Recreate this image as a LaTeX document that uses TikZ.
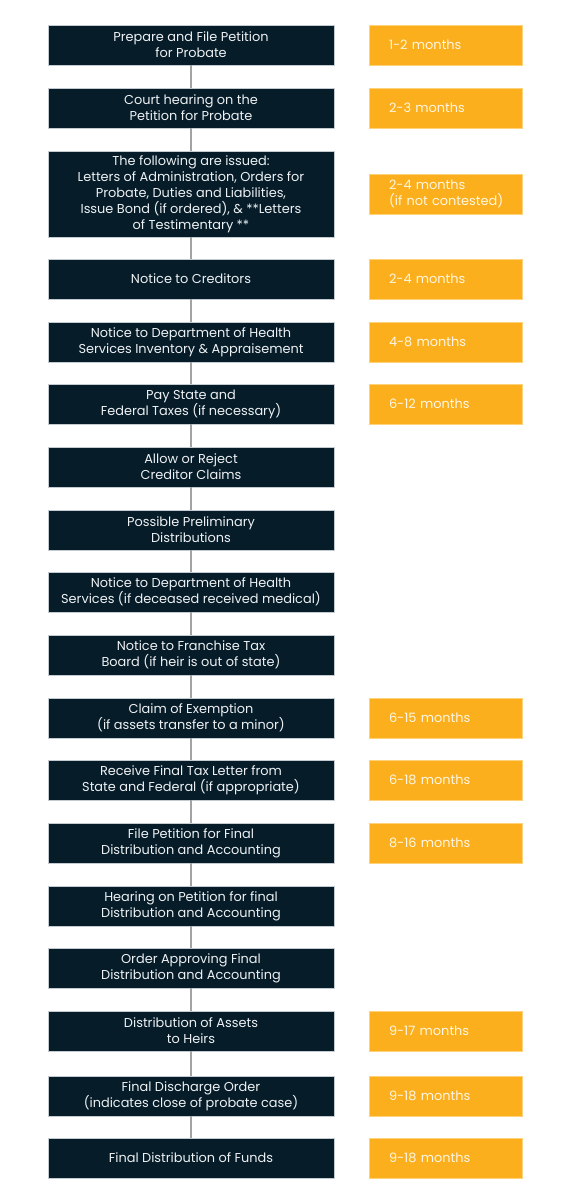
\documentclass[tikz,border=0pt]{standalone}
\usepackage{fontspec}
\setmainfont{Poppins}
\usepackage{tikz}
\definecolor{stepnavy}{HTML}{061C29}
\definecolor{stepedge}{HTML}{C3CBD1}
\definecolor{steptext}{HTML}{EEF1F3}
\definecolor{timeorange}{HTML}{FBAF1D}
\definecolor{timeedge}{HTML}{FDD27A}
\definecolor{timetext}{HTML}{FFF6E3}
\definecolor{linkgray}{HTML}{A3A3A3}
\tikzset{
  stepbox/.style={fill=stepnavy, draw=stepedge, line width=0.7pt, text=steptext,
    minimum width=286pt, minimum height=40pt, inner sep=2pt, align=center,
    font=\fontsize{12.9}{16}\selectfont},
  timebox/.style={fill=timeorange, draw=timeedge, line width=0.7pt, text=timetext,
    minimum height=40pt, text width=113pt, inner xsep=20pt, inner ysep=2pt, align=left,
    font=\fontsize{12.9}{16}\selectfont},
  link/.style={draw=linkgray, line width=1.6pt}
}

\begin{document}
\begin{tikzpicture}[x=1pt, y=-1pt]
\useasboundingbox[fill=white] (0,0) rectangle (564,1200);

% process steps
\node[stepbox] (prepare) at (191,45) {Prepare and File Petition\\for Probate};
\node[stepbox] (hearing) at (191,108) {Court hearing on the\\Petition for Probate};
\node[stepbox, minimum height=86pt] (issued) at (191,194) {The following are issued:\\Letters of Administration, Orders for\\Probate, Duties and Liabilities,\\Issue Bond (if ordered), \& **Letters\\of Testimentary **};
\node[stepbox] (creditors) at (191,279) {Notice to Creditors};
\node[stepbox] (health) at (191,342) {Notice to Department of Health\\Services Inventory \& Appraisement};
\node[stepbox] (taxes) at (191,404) {Pay State and\\Federal Taxes (if necessary)};
\node[stepbox] (claims) at (191,467) {Allow or Reject\\Creditor Claims};
\node[stepbox] (prelim) at (191,530) {Possible Preliminary\\Distributions};
\node[stepbox] (medical) at (191,592) {Notice to Department of Health\\Services (if deceased received medical)};
\node[stepbox] (franchise) at (191,655) {Notice to Franchise Tax\\Board (if heir is out of state)};
\node[stepbox] (exemption) at (191,718) {Claim of Exemption\\(if assets transfer to a minor)};
\node[stepbox] (taxletter) at (191,780) {Receive Final Tax Letter from\\State and Federal (if appropriate)};
\node[stepbox] (petition) at (191,843) {File Petition for Final\\Distribution and Accounting};
\node[stepbox] (finalhear) at (191,906) {Hearing on Petition for final\\Distribution and Accounting};
\node[stepbox] (approve) at (191,968) {Order Approving Final\\Distribution and Accounting};
\node[stepbox] (assets) at (191,1031) {Distribution of Assets\\to Heirs};
\node[stepbox] (discharge) at (191,1096) {Final Discharge Order\\(indicates close of probate case)};
\node[stepbox] (funds) at (191,1158) {Final Distribution of Funds};

% durations
\node[timebox] (t-prepare) at (445.5,45) {1-2 months};
\node[timebox] (t-hearing) at (445.5,108) {2-3 months};
\node[timebox] (t-issued) at (445.5,194) {2-4 months\\\mbox{(if not contested)}};
\node[timebox] (t-creditors) at (445.5,279) {2-4 months};
\node[timebox] (t-health) at (445.5,342) {4-8 months};
\node[timebox] (t-taxes) at (445.5,404) {6-12 months};
\node[timebox] (t-exemption) at (445.5,718) {6-15 months};
\node[timebox] (t-taxletter) at (445.5,780) {6-18 months};
\node[timebox] (t-petition) at (445.5,843) {8-16 months};
\node[timebox] (t-assets) at (445.5,1031) {9-17 months};
\node[timebox] (t-discharge) at (445.5,1096) {9-18 months};
\node[timebox] (t-funds) at (445.5,1158) {9-18 months};

% connectors
\draw[link] (prepare) -- (hearing);
\draw[link] (hearing) -- (issued);
\draw[link] (issued) -- (creditors);
\draw[link] (creditors) -- (health);
\draw[link] (health) -- (taxes);
\draw[link] (taxes) -- (claims);
\draw[link] (claims) -- (prelim);
\draw[link] (prelim) -- (medical);
\draw[link] (medical) -- (franchise);
\draw[link] (franchise) -- (exemption);
\draw[link] (exemption) -- (taxletter);
\draw[link] (taxletter) -- (petition);
\draw[link] (petition) -- (finalhear);
\draw[link] (finalhear) -- (approve);
\draw[link] (approve) -- (assets);
\draw[link] (assets) -- (discharge);
\draw[link] (discharge) -- (funds);
\end{tikzpicture}
\end{document}
